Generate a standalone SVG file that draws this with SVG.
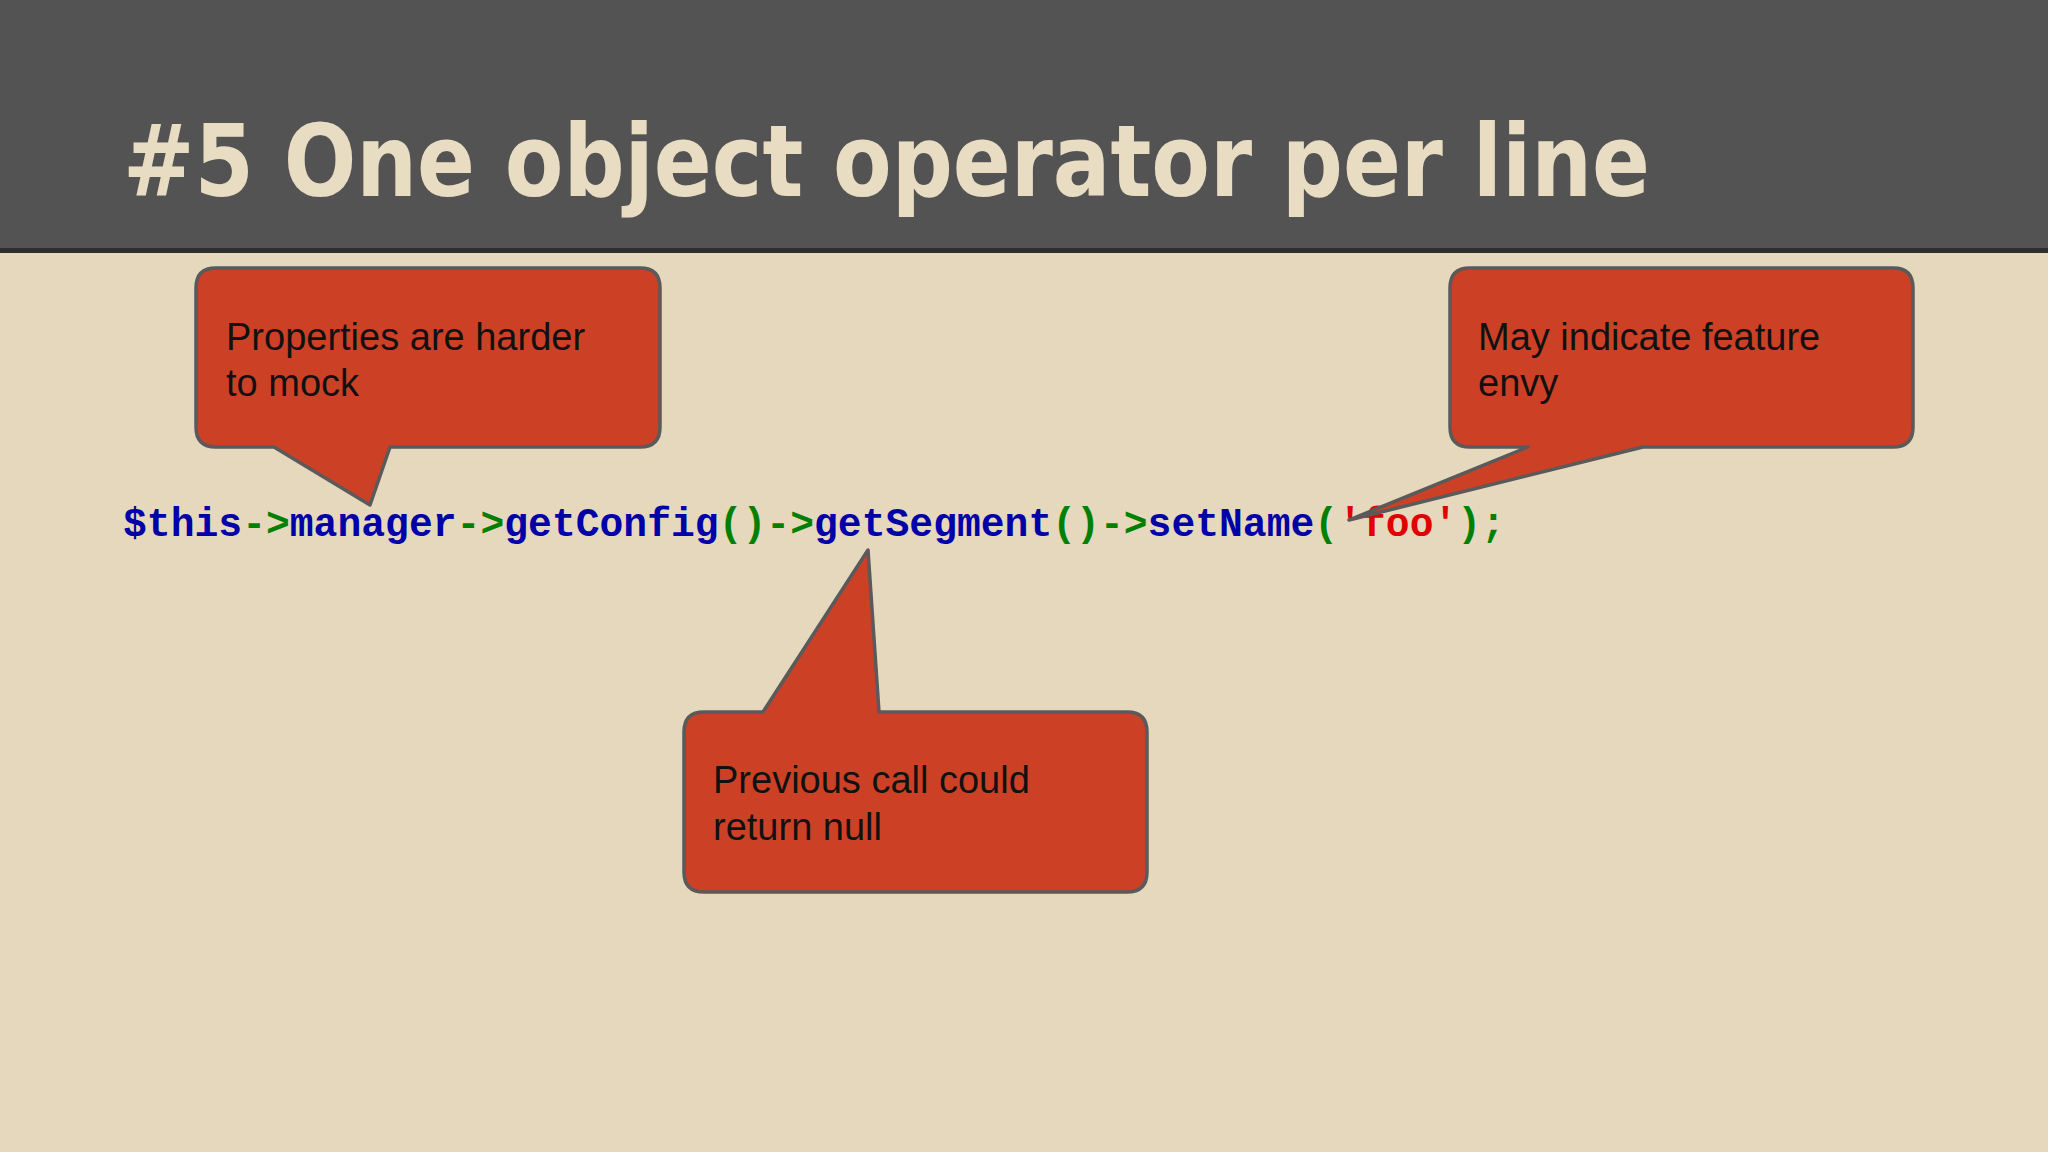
<svg xmlns="http://www.w3.org/2000/svg" width="2048" height="1152" viewBox="0 0 2048 1152">
<style>
.co{fill:#cc4125;stroke:#5a5a5a;stroke-width:3.5;stroke-linejoin:round}
.ct{font-family:"Liberation Sans",Arial,sans-serif;font-size:38px;fill:#111}
.code{font-family:"Liberation Mono","Courier New",monospace;font-weight:bold;font-size:40px}
.b{fill:#0000a8}.g{fill:#008000}.r{fill:#e00000}
</style>
<rect width="2048" height="1152" fill="#e6d8bd"/>
<rect width="2048" height="248" fill="#535353"/>
<rect y="248" width="2048" height="5" fill="#2e2e2e"/>
<text x="123" y="196" font-family="'DejaVu Sans',sans-serif" font-weight="bold" font-size="100" fill="#e8dcc3" textLength="1527" lengthAdjust="spacingAndGlyphs">#5 One object operator per line</text>
<g id="code">
<text class="code" x="123" y="536" textLength="1382" lengthAdjust="spacingAndGlyphs"><tspan class="b">$this</tspan><tspan class="g">-&gt;</tspan><tspan class="b">manager</tspan><tspan class="g">-&gt;</tspan><tspan class="b">getConfig</tspan><tspan class="g">()-&gt;</tspan><tspan class="b">getSegment</tspan><tspan class="g">()-&gt;</tspan><tspan class="b">setName</tspan><tspan class="g">(</tspan><tspan class="r">'foo'</tspan><tspan class="g">);</tspan></text>
</g>
<g id="callout1">
<path class="co" d="M216,268 H640 Q660,268 660,288 V427 Q660,447 640,447 H390 L370,505 L274,447 H216 Q196,447 196,427 V288 Q196,268 216,268 Z"/>
<text class="ct" x="226" y="350">Properties are harder</text>
<text class="ct" x="226" y="396">to mock</text>
</g>
<g id="callout2">
<path class="co" d="M1470,268 H1893 Q1913,268 1913,288 V427 Q1913,447 1893,447 H1643 L1349,520 L1528,447 H1470 Q1450,447 1450,427 V288 Q1450,268 1470,268 Z"/>
<text class="ct" x="1478" y="350">May indicate feature</text>
<text class="ct" x="1478" y="396">envy</text>
</g>
<g id="callout3">
<path class="co" d="M704,712 H763 L868,550 L879,712 H1127 Q1147,712 1147,732 V872 Q1147,892 1127,892 H704 Q684,892 684,872 V732 Q684,712 704,712 Z"/>
<text class="ct" x="713" y="793">Previous call could</text>
<text class="ct" x="713" y="840">return null</text>
</g>
</svg>
